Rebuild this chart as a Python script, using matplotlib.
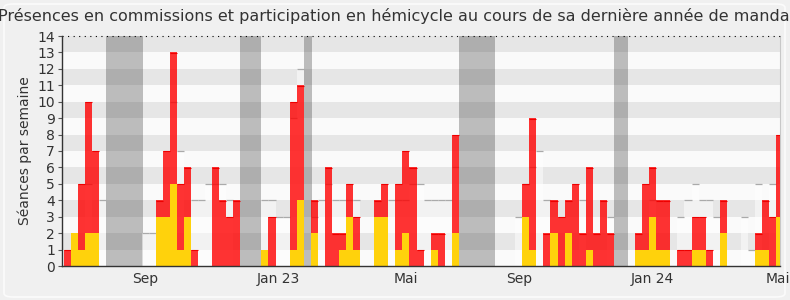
import matplotlib
matplotlib.use("Agg")
import matplotlib.pyplot as plt
from matplotlib.patches import FancyBboxPatch
import numpy as np

# ---- data (one value per week) ----
commissions = [
    0, 2, 1, 2, 2, 0, 0, 0, 0, 0,
    0, 0, 0, 3, 3, 5, 1, 3, 0, 0,
    0, 0, 0, 0, 0, 0, 0, 0, 1, 0,
    0, 0, 1, 4, 0, 2, 0, 0, 0, 1,
    3, 1, 0, 0, 3, 3, 0, 1, 2, 0,
    0, 0, 1, 0, 0, 2, 0, 0, 0, 0,
    0, 0, 0, 0, 0, 3, 1, 0, 0, 2,
    0, 2, 0, 0, 1, 0, 0, 0, 0, 0,
    0, 1, 1, 3, 1, 1, 0, 0, 0, 1,
    1, 0, 0, 2, 0, 0, 0, 0, 1, 1,
    0, 3,
]
hemicycle = [
    1, 0, 4, 8, 5, 0, 0, 0, 0, 0,
    0, 0, 0, 1, 4, 8, 4, 3, 1, 0,
    0, 6, 4, 3, 4, 0, 0, 0, 0, 3,
    0, 0, 9, 7, 0, 2, 0, 6, 2, 1,
    2, 2, 0, 0, 1, 2, 0, 4, 5, 6,
    1, 0, 1, 2, 0, 6, 0, 0, 0, 0,
    0, 0, 0, 0, 0, 2, 8, 0, 2, 2,
    3, 2, 5, 2, 5, 2, 4, 2, 0, 0,
    0, 1, 4, 3, 3, 3, 0, 1, 1, 2,
    2, 1, 0, 2, 0, 0, 0, 0, 1, 3,
    3, 5,
]
median_deputes = [
    0, 0, 0, 5, 0, 4, 0, 0, 0, 0,
    0, 2, 2, 0, 0, 10, 7, 0, 4, 4,
    5, 5, 5, 4, 0, 0, 0, 0, 4, 4,
    3, 3, 9, 12, 0, 3, 4, 5, 4, 4,
    4, 4, 0, 0, 0, 0, 4, 4, 4, 5,
    5, 4, 4, 4, 4, 6, 0, 0, 0, 0,
    0, 0, 0, 0, 3, 5, 6, 7, 4, 0,
    0, 0, 0, 4, 0, 0, 0, 3, 0, 0,
    0, 0, 0, 4, 0, 0, 0, 3, 4, 5,
    4, 4, 3, 0, 0, 0, 3, 1, 5, 0,
    5, 0,
]
vacances = [(5.95, 11.15), (25.0, 28.0), (34.0, 35.15), (56.0, 61.1), (78.0, 80.05)]
tick_labels = ["Sep", "Jan 23", "Mai", "Sep", "Jan 24", "Mai"]
tick_weeks = [11.5, 30.4, 48.5, 64.5, 83.4, 101.3]
title = ("Présences en commissions et participation en hémicycle "
         "au cours de sa dernière année de mandat")

# ---- figure ----
W, H = 790, 300
fig = plt.figure(figsize=(W / 100, H / 100), dpi=100)
fig.patch.set_facecolor("#f0f0f0")
fig.patches.append(FancyBboxPatch((4 / W, 3 / H), 781 / W, 293 / H,
                                  boxstyle="round,pad=0,rounding_size=0.012",
                                  transform=fig.transFigure, facecolor="none",
                                  edgecolor="#fbfbfb", lw=1.2, zorder=0))

ax = fig.add_axes([62 / W, 34 / H, (780 - 62) / W, (266 - 36) / H])
ax.set_facecolor("#fafafa")
x = np.arange(len(commissions))
comm = np.array(commissions)
hemi = np.array(hemicycle)
med = np.array(median_deputes)

# stripes
for k in range(14):
    ax.axhspan(k, k + 1, color="#fafafa" if k % 2 == 0 else "#e6e6e6", lw=0, zorder=0)

# vacations
for a, b in vacances:
    ax.axvspan(a, b, color="#2f2f2f", alpha=0.3, lw=0, zorder=1)

# median bars
ax.bar(x, med, width=1.0, align="edge", color="white", alpha=0.5, lw=0, zorder=2)
m = med > 0
ax.hlines(med[m], x[m], x[m] + 1, color="#aaaaaa", lw=0.9, zorder=2.5)

# hemicycle (red) stacked on commissions (yellow)
tot = comm + hemi
ax.bar(x, hemi, bottom=comm, width=1.0, align="edge", color="#ff0000",
       alpha=0.8, lw=0, zorder=3)
r = hemi > 0
ax.hlines(tot[r] - 0.025, x[r], x[r] + 1, color="#ee0000", lw=0.8, zorder=3.5)
ax.bar(x, comm, width=1.0, align="edge", color="#ffd20c", lw=0, zorder=4)

ax.set_xlim(-0.28, 101.55)
ax.set_ylim(0, 14)
ax.set_yticks(range(15))
ax.set_xticks(tick_weeks)
ax.set_xticklabels(tick_labels)
ax.tick_params(axis="x", length=0, labelsize=10, labelcolor="#333333", pad=4)
ax.tick_params(axis="y", length=3, color="#555555", labelsize=10,
               labelcolor="#333333", pad=2)
ax.set_ylabel("Séances par semaine", fontsize=10, color="#333333", labelpad=4)

for s in ["left", "bottom"]:
    ax.spines[s].set_color("#333333")
    ax.spines[s].set_linewidth(1.0)
    ax.spines[s].set_zorder(6)
ax.spines["right"].set_color("#c8c8c8")
ax.spines["top"].set_visible(False)
ax.axhline(14, color="black", lw=0.8, ls=(0, (1, 4)), zorder=6, clip_on=False)

fig.text(0.503, 0.945, title, ha="center", va="center", fontsize=11.55,
         color="#333333")

fig.savefig("out.png", dpi=100, facecolor=fig.get_facecolor())
